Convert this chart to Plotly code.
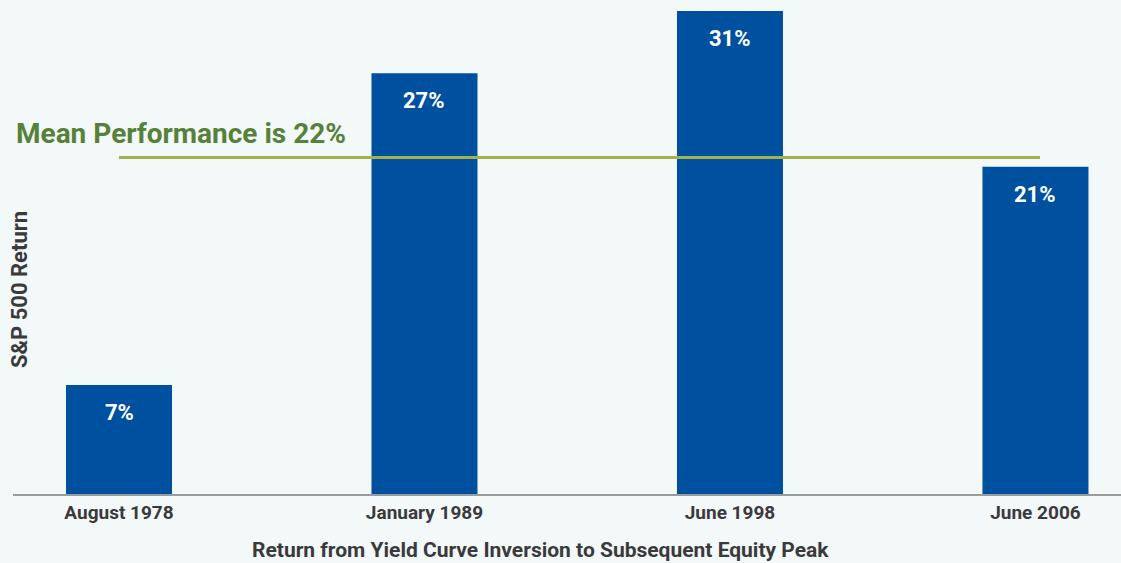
import plotly.graph_objects as go

categories = ["August 1978", "January 1989", "June 1998", "June 2006"]
returns = [7, 27, 31, 21]
labels = ["7%", "27%", "31%", "21%"]
mean_value = 21.6
mean_label = "Mean Performance is 22%"

BAR = "#0050A0"
BG = "#F3F8F9"
TXT = "#3A3A3C"
FONT = "Roboto, sans-serif"

xpos = list(range(len(categories)))

fig = go.Figure()
fig.add_trace(go.Bar(x=xpos, y=returns, width=0.347, marker=dict(color=BAR, line=dict(width=0)),
                     hoverinfo="skip", showlegend=False))
fig.add_trace(go.Scatter(x=[xpos[0], xpos[-1] + 0.015], y=[mean_value, mean_value], mode="lines",
                         line=dict(color="#A3B24F", width=3), hoverinfo="skip", showlegend=False))

for x, v, t in zip(xpos, returns, labels):
    fig.add_annotation(x=x, y=v, text=f"<b>{t}</b>", showarrow=False, yanchor="top", yshift=-13,
                       font=dict(family=FONT, size=22, color="white"))

fig.add_annotation(x=-0.343, y=mean_value, text=f"<b>{mean_label}</b>", showarrow=False,
                   xanchor="left", yanchor="bottom", yshift=5,
                   font=dict(family=FONT, size=28, color="#568139"))

fig.add_annotation(xref="paper", yref="paper", x=0.4765, y=0, yshift=-56,
                   text="<b>Return from Yield Curve Inversion to Subsequent Equity Peak</b>",
                   showarrow=False, yanchor="middle",
                   font=dict(family=FONT, size=21, color=TXT))
fig.add_annotation(xref="paper", yref="paper", x=0, xshift=7, y=0.413,
                   text="<b>S&P 500 Return</b>", showarrow=False, textangle=-90,
                   xanchor="center", yanchor="middle",
                   font=dict(family=FONT, size=22, color=TXT))

fig.update_layout(
    width=1121, height=563,
    margin=dict(l=13, r=0, t=0, b=69),
    paper_bgcolor=BG, plot_bgcolor=BG,
    xaxis=dict(range=[-0.347, 3.28], tickvals=xpos, ticktext=[f"<b>{c}</b>" for c in categories],
               showgrid=False, zeroline=False, showline=True, linecolor="#9A9B9D", linewidth=2,
               ticks="", tickfont=dict(family=FONT, size=19, color=TXT)),
    yaxis=dict(range=[0, 31.7], showgrid=False, zeroline=False, showticklabels=False, showline=False),
)

fig.write_html("out.html")
